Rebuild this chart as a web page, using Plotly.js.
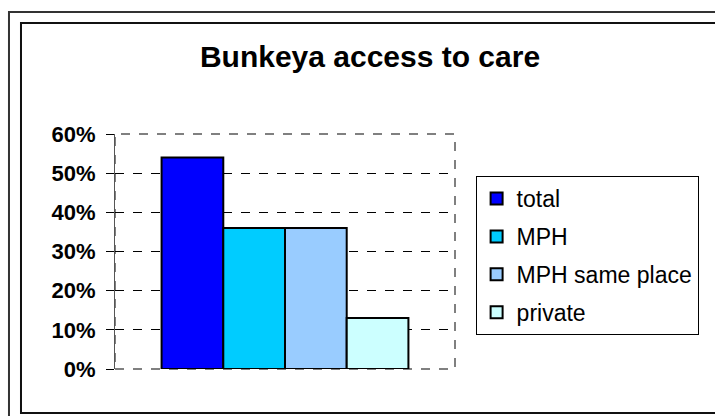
<!DOCTYPE html>
<html>
<head>
<meta charset="utf-8">
<script src="https://cdn.plot.ly/plotly-3.0.1.min.js"></script>
<style>
  html, body { margin: 0; padding: 0; background: #ffffff; }
  #chart { width: 715px; height: 416px; }
</style>
</head>
<body>
<div id="chart"></div>
<script>
// ---- data ----
const chartTitle = "Bunkeya access to care";
const category = ["Bunkeya"];
const seriesNames = ["total", "MPH", "MPH same place", "private"];
const seriesValues = [0.54, 0.36, 0.36, 0.13];
const seriesColors = ["#0000FF", "#00CCFF", "#99CCFF", "#CCFFFF"];
const yTickVals = [0, 0.1, 0.2, 0.3, 0.4, 0.5, 0.6];
const yTickText = ["0%", "10%", "20%", "30%", "40%", "50%", "60%"];

const FONT = "Liberation Sans, Arial, sans-serif";

const traces = seriesNames.map((name, i) => ({
  type: "bar",
  name: name,
  x: category,
  y: [seriesValues[i]],
  legendgroup: "g" + i,
  marker: { color: seriesColors[i], line: { color: "#000000", width: 2 } },
  hoverinfo: "name+y"
}));

const layout = {
  width: 715,
  height: 416,
  margin: { l: 115, r: 260, t: 134, b: 47, pad: 0 },
  paper_bgcolor: "#ffffff",
  plot_bgcolor: "#ffffff",
  showlegend: true,
  barmode: "group",
  bargap: 0.274,
  bargroupgap: 0,
  title: {
    text: chartTitle,
    x: 0.5175, xref: "container", xanchor: "center",
    y: 0.863, yref: "container", yanchor: "middle",
    font: { family: FONT, size: 30, weight: "bold", color: "#000000" }
  },
  xaxis: {
    type: "category",
    range: [-0.5, 0.5],
    showticklabels: false,
    showgrid: false,
    zeroline: false,
    showline: false,
    ticks: ""
  },
  yaxis: {
    range: [0, 0.6],
    tickvals: yTickVals,
    ticktext: yTickText,
    ticks: "outside",
    ticklen: 8,
    tickwidth: 1,
    tickcolor: "#000000",
    ticklabelstandoff: 6,
    showline: true,
    linecolor: "#555555",
    linewidth: 1,
    showgrid: true,
    gridcolor: "#000000",
    gridwidth: 1,
    griddash: "dash",
    zeroline: false,
    tickfont: { family: FONT, size: 22, weight: "bold", color: "#000000" },
    fixedrange: true
  },
  legend: {
    x: 1.0606, xref: "paper", xanchor: "left",
    y: 0.821, yref: "paper", yanchor: "top",
    bgcolor: "#ffffff",
    bordercolor: "#000000",
    borderwidth: 1,
    tracegroupgap: 5,
    traceorder: "grouped",
    font: { family: FONT, size: 23, color: "#000000" }
  },
  shapes: [
    // plot-area border (gray dashed)
    { type: "rect", xref: "paper", yref: "paper", x0: 0, x1: 1, y0: 0, y1: 1,
      line: { color: "#808080", width: 2, dash: "dash" }, layer: "below" },
    // outer chart frame
    { type: "rect", xref: "paper", yref: "paper", x0: -0.3118, x1: 1.78, y0: -0.25, y1: 1.5191,
      line: { color: "#333333", width: 2 }, layer: "above" },
    // inner chart frame
    { type: "rect", xref: "paper", yref: "paper", x0: -0.2765, x1: 1.78, y0: -0.1872, y1: 1.4723,
      line: { color: "#111111", width: 2 }, layer: "above" }
  ]
};

Plotly.newPlot("chart", traces, layout, { displayModeBar: false, staticPlot: true });
</script>
</body>
</html>
